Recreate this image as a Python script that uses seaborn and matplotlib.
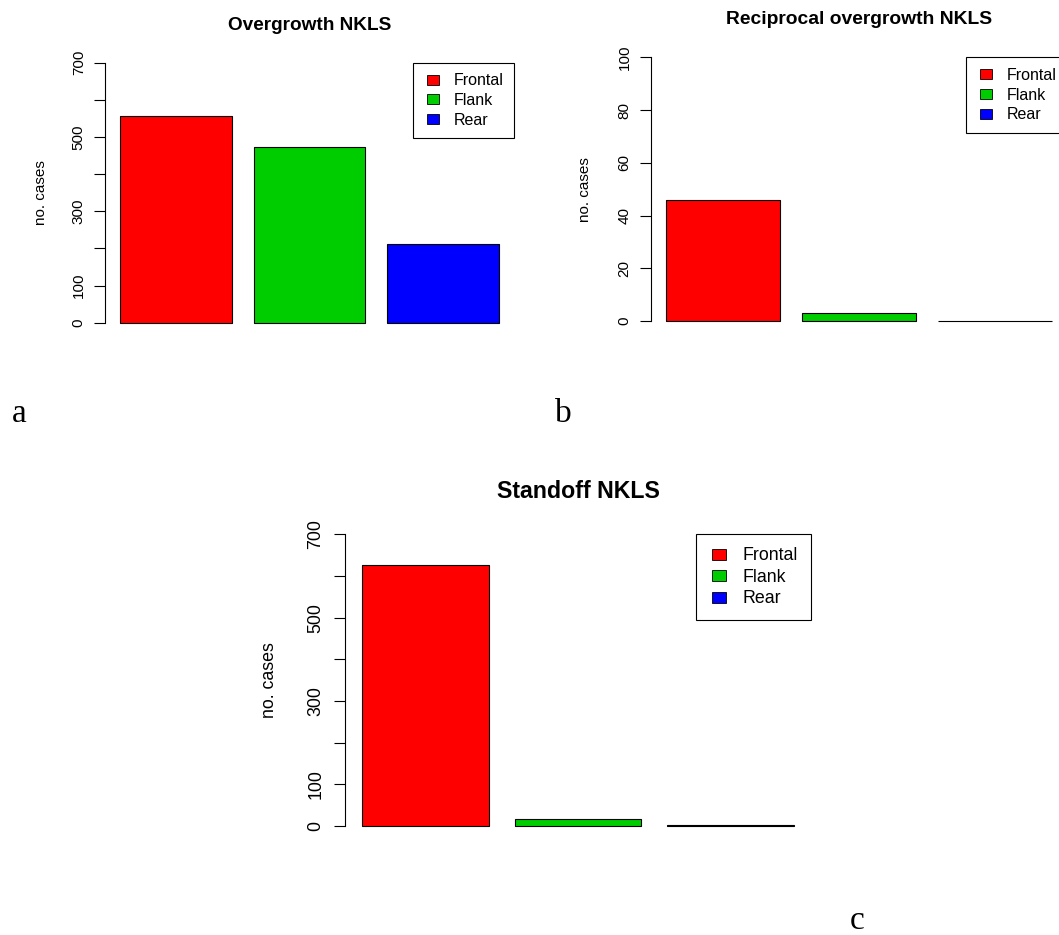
import matplotlib
matplotlib.use("Agg")
import matplotlib.pyplot as plt
import matplotlib.patches as mpatches
from matplotlib.legend_handler import HandlerPatch
import seaborn as sns
import pandas as pd

# ---- data ----
categories = ["Frontal", "Flank", "Rear"]
colors = ["#FF0000", "#00CD00", "#0000FF"]

titles = ["Overgrowth NKLS", "Reciprocal overgrowth NKLS", "Standoff NKLS"]
overgrowth = [557, 473, 211]
reciprocal = [46, 3, 0]
standoff = [626, 18, 2]

ticks_a = [0, 100, 200, 300, 400, 500, 600, 700]
labels_a = ["0", "100", "", "300", "", "500", "", "700"]
ticks_b = [0, 20, 40, 60, 80, 100]
labels_b = ["0", "20", "40", "60", "80", "100"]
panel_letters = ["a", "b", "c"]
ylabel = "no. cases"

sns.set_theme(style="white")
plt.rcParams["font.family"] = ["Liberation Sans", "DejaVu Sans"]

W, H = 1059, 935
fig = plt.figure(figsize=(W / 100, H / 100), dpi=100)
fig.patch.set_facecolor("white")


def add_ax(left, right, top, bottom):
    return fig.add_axes([left / W, 1 - bottom / H, (right - left) / W, (bottom - top) / H])


def rect_patch(legend, orig_handle, xdescent, ydescent, width, height, fontsize):
    scale = fontsize / 11.5
    w, h = 9.1 * scale, 7.2 * scale
    return mpatches.Rectangle((-xdescent + (width - w) / 2, -ydescent + (height - h) / 2), w, h)


def panel(ax, values, title, ymax, ticks, labels, fs, title_fs, title_pad, tick_len, tick_pad,
          ylab_x, leg_fs, leg_bp, leg_hl, leg_htp, leg_ls):
    df = pd.DataFrame({"cat": categories, "val": values})
    sns.barplot(data=df, x="cat", y="val", hue="cat", order=categories, hue_order=categories,
                palette=colors, width=1 / 1.2, saturation=1, edgecolor="black",
                linewidth=0.8, legend=False, ax=ax)
    ax.set_xlim(-0.53, 2.53)
    ax.set_ylim(-0.04 * ymax, 1.04 * ymax)
    for s in ["top", "right", "bottom"]:
        ax.spines[s].set_visible(False)
    ax.spines["left"].set_bounds(0, ymax)
    ax.spines["left"].set_color("black")
    ax.spines["left"].set_linewidth(0.8)
    ax.set_xticks([])
    ax.set_xlabel("")
    ax.set_yticks(ticks, labels, rotation=90, va="center", fontsize=fs)
    ax.tick_params(axis="y", direction="out", length=tick_len, width=0.8, color="black",
                   pad=tick_pad, left=True, labelcolor="black")
    ax.set_ylabel(ylabel, fontsize=fs, color="black", va="center")
    ax.yaxis.set_label_coords(ylab_x, 0.5)
    ax.set_title(title, fontsize=title_fs, fontweight="bold", pad=title_pad, color="black")
    ax.set_facecolor("none")
    handles = [mpatches.Patch(facecolor=c, edgecolor="black", linewidth=0.6, label=l)
               for c, l in zip(colors, categories)]
    leg = ax.legend(handles=handles, loc="upper right", bbox_to_anchor=(1.0, ymax),
                    bbox_transform=ax.get_yaxis_transform(), borderaxespad=0,
                    fontsize=leg_fs, frameon=True, fancybox=False, framealpha=1,
                    borderpad=leg_bp, handlelength=leg_hl, handleheight=0.65,
                    handletextpad=leg_htp, labelspacing=leg_ls,
                    handler_map={mpatches.Patch: HandlerPatch(patch_func=rect_patch)})
    leg.get_frame().set_edgecolor("black")
    leg.get_frame().set_linewidth(0.8)
    for t in leg.get_texts():
        t.set_color("black")


# panel a
ax_a = add_ax(105, 514, 52.3, 333.1)
panel(ax_a, overgrowth, titles[0], 700, ticks_a, labels_a, 11, 13.7, 15.8, 7.7, 6.1,
      (41 - 105) / 409, 11.5, 0.67, 1.16, 0.71, 0.29)

# panel b
ax_b = add_ax(651, 1067.1, 46.8, 331.5)
panel(ax_b, reciprocal, titles[1], 100, ticks_b, labels_b, 11, 13.9, 16.5, 7.7, 6.4,
      (585 - 651) / 416.1, 11.5, 0.67, 1.16, 0.71, 0.29)

# panel c
ax_c = add_ax(345, 811, 522.6, 837.7)
panel(ax_c, standoff, titles[2], 700, ticks_a, labels_a, 12.8, 16.7, 17.5, 8.0, 7.0,
      (270 - 345) / 466, 12.8, 0.74, 1.11, 0.78, 0.25)

# panel letters
letter_font = dict(family=["Liberation Serif", "DejaVu Serif"], fontsize=24, color="black")
fig.text(11.7 / W, 1 - 421.7 / H, panel_letters[0], ha="left", va="baseline", **letter_font)
fig.text(555 / W, 1 - 421.7 / H, panel_letters[1], ha="left", va="baseline", **letter_font)
fig.text(850 / W, 1 - 929 / H, panel_letters[2], ha="left", va="baseline", **letter_font)

fig.savefig("out.png", dpi=100, facecolor="white")
